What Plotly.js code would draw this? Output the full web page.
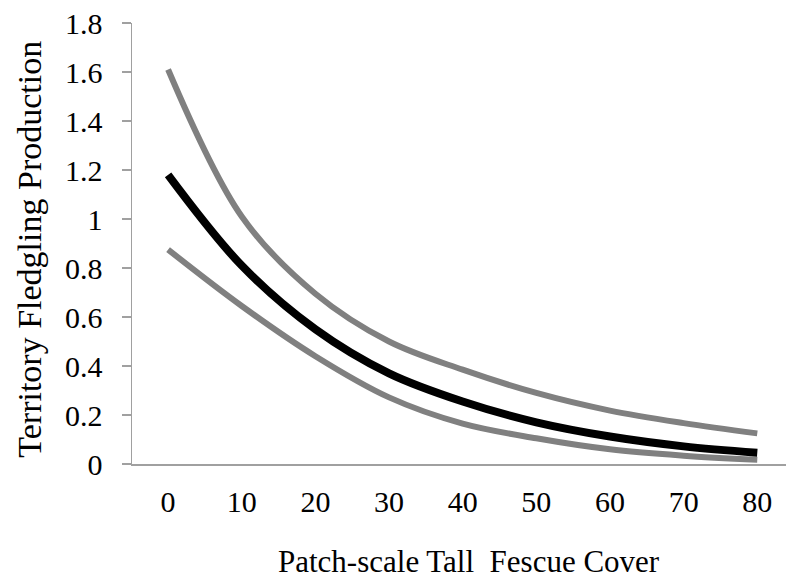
<!DOCTYPE html>
<html>
<head>
<meta charset="utf-8">
<script src="https://cdn.plot.ly/plotly-3.0.1.min.js"></script>
<style>
  html, body { margin: 0; padding: 0; background: #fff; }
  #chart { width: 787px; height: 578px; }
</style>
</head>
<body>
<div id="chart"></div>
<script>
// Patch-scale tall fescue cover (%)
const fescueCover = [0, 10, 20, 30, 40, 50, 60, 70, 80];
// Predicted territory fledgling production
const meanFledglings = [1.18, 0.81, 0.55, 0.37, 0.255, 0.17, 0.112, 0.072, 0.046];
// Upper confidence limit
const upperLimit = [1.61, 1.01, 0.695, 0.50, 0.385, 0.29, 0.218, 0.167, 0.125];
// Lower confidence limit
const lowerLimit = [0.875, 0.645, 0.44, 0.272, 0.165, 0.105, 0.06, 0.034, 0.017];

const xTicks = [0, 10, 20, 30, 40, 50, 60, 70, 80];
const yTicks = [0, 0.2, 0.4, 0.6, 0.8, 1, 1.2, 1.4, 1.6, 1.8];

const font = 'Liberation Serif, Times New Roman, serif';
const axisGrey = '#a0a0a0';

const traces = [
  { x: fescueCover, y: upperLimit, name: 'Upper', mode: 'lines',
    line: { color: '#808080', width: 6, shape: 'spline', smoothing: 1 } },
  { x: fescueCover, y: lowerLimit, name: 'Lower', mode: 'lines',
    line: { color: '#808080', width: 6, shape: 'spline', smoothing: 1 } },
  { x: fescueCover, y: meanFledglings, name: 'Mean', mode: 'lines',
    line: { color: '#000000', width: 8, shape: 'spline', smoothing: 1 } }
];

const layout = {
  width: 787, height: 578,
  margin: { l: 132, r: 1, t: 23, b: 114, pad: 0 },
  paper_bgcolor: '#ffffff', plot_bgcolor: '#ffffff',
  showlegend: false,
  font: { family: font, size: 30, color: '#000' },
  xaxis: {
    range: [-4.9, 83.9],
    tickvals: xTicks,
    ticktext: xTicks.map(String),
    ticks: '',
    showgrid: false, zeroline: false,
    showline: true, linecolor: axisGrey, linewidth: 1.5,
    tickfont: { family: font, size: 30, color: '#000' },
    ticklabelstandoff: 10,
    fixedrange: true
  },
  yaxis: {
    range: [0, 1.8],
    tickvals: yTicks,
    ticktext: yTicks.map(String),
    ticks: 'outside', ticklen: 9, tickwidth: 1.5, tickcolor: axisGrey,
    showgrid: false, zeroline: false,
    showline: true, linecolor: axisGrey, linewidth: 1.5,
    tickfont: { family: font, size: 30, color: '#000' },
    ticklabelstandoff: 13,
    fixedrange: true
  },
  annotations: [
    { text: 'Patch-scale Tall  Fescue Cover', xref: 'paper', yref: 'paper',
      x: 0.515, y: -0.222, xanchor: 'center', yanchor: 'middle', showarrow: false,
      font: { family: font, size: 31, color: '#000' } },
    { text: 'Territory Fledgling Production', xref: 'paper', yref: 'paper',
      x: -0.158, y: 0.4875, xanchor: 'center', yanchor: 'middle', showarrow: false,
      textangle: -90,
      font: { family: font, size: 34, color: '#000' } }
  ]
};

Plotly.newPlot('chart', traces, layout, { staticPlot: true, displayModeBar: false });
</script>
</body>
</html>
